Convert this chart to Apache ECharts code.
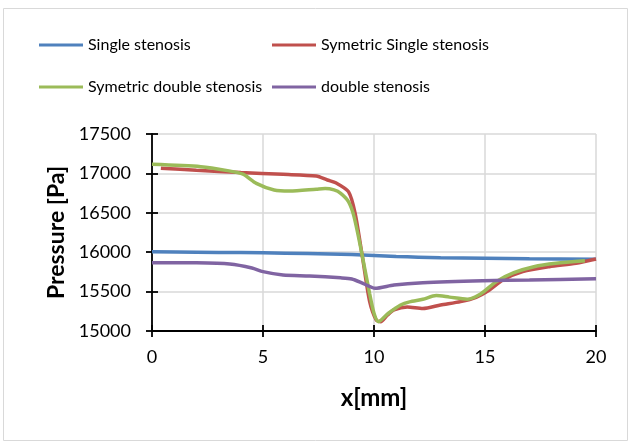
<!DOCTYPE html>
<html>
<head>
<meta charset="utf-8">
<script src="https://cdn.jsdelivr.net/npm/echarts@6/dist/echarts.min.js"></script>
<style>
  html, body { margin: 0; padding: 0; background: #fff; }
  #main { width: 630px; height: 442px; }
</style>
</head>
<body>
<div id="main"></div>
<script>
// values (x in mm, pressure in Pa)
var singleX = [0, 2, 4, 6, 8, 9, 10, 11, 12, 13, 15, 17, 20];
var singleP = [16005, 16000, 15995, 15988, 15978, 15970, 15958, 15945, 15937, 15930, 15922, 15916, 15910];

var symSingleX = [0.4, 2, 4, 5.9, 7.4, 7.9, 8.3, 8.85, 9.15, 9.5, 9.8, 10.1, 10.3, 10.6, 10.9, 11.5, 12.2, 13.0, 13.9, 14.6, 15.2, 15.8, 16.7, 17.9, 19.1, 20];
var symSingleP = [17065, 17040, 17010, 16988, 16967, 16916, 16878, 16768, 16493, 15900, 15380, 15140, 15118, 15200, 15267, 15305, 15285, 15330, 15373, 15428, 15520, 15647, 15753, 15816, 15859, 15914];

var symDoubleX = [0, 2.2, 3.4, 4.1, 4.7, 5.5, 6.2, 7.4, 7.8, 8.2, 8.5, 8.85, 9.1, 9.45, 9.8, 10.0, 10.2, 10.65, 11.2, 11.6, 12.2, 12.8, 13.4, 14.2, 14.8, 15.5, 16.3, 17.2, 18.2, 19.5];
var symDoubleP = [17115, 17085, 17035, 16990, 16874, 16790, 16777, 16800, 16808, 16790, 16747, 16641, 16451, 15986, 15478, 15225, 15118, 15225, 15330, 15370, 15402, 15450, 15430, 15404, 15470, 15626, 15740, 15816, 15859, 15892];

var doubleX = [0, 2, 3.5, 4.5, 5, 5.9, 7.1, 8.5, 9.0, 9.5, 10.05, 10.9, 12.2, 14.9, 17, 20];
var doubleP = [15867, 15865, 15850, 15800, 15753, 15710, 15698, 15675, 15660, 15605, 15542, 15584, 15613, 15638, 15648, 15662];

var names = ['Single stenosis', 'Symetric Single stenosis', 'Symetric double stenosis', 'double stenosis'];
var colors = ['#4F81BD', '#C0504D', '#9BBB59', '#8064A2'];

var xTicks = [0, 5, 10, 15, 20];
var yTicks = [15000, 15500, 16000, 16500, 17000, 17500];

function pairs(xs, ys) {
    return xs.map(function (x, i) { return [x, ys[i]]; });
}

var font = 'Lato, "Liberation Sans", sans-serif';

function legendAt(name, left, top) {
    return {
        data: [name],
        left: left,
        top: top,
        padding: 0,
        icon: 'rect',
        itemWidth: 44,
        itemHeight: 3,
        itemGap: 0,
        textStyle: { fontFamily: font, fontSize: 16, color: '#000' }
    };
}

var chart = echarts.init(document.getElementById('main'));

var option = {
    animation: false,
    backgroundColor: '#fff',
    color: colors,
    graphic: [{
        type: 'rect',
        shape: { x: 3.5, y: 8.5, width: 624, height: 432 },
        style: { fill: 'none', stroke: '#d9d9d9', lineWidth: 1 },
        silent: true
    }],
    legend: [
        legendAt(names[0], 39, 37),
        legendAt(names[1], 272, 37),
        legendAt(names[2], 39, 79),
        legendAt(names[3], 272, 79)
    ],
    grid: { left: 152, right: 34, top: 134, bottom: 111, containLabel: false },
    xAxis: [{
        type: 'value',
        min: xTicks[0],
        max: xTicks[xTicks.length - 1],
        interval: 5,
        position: 'bottom',
        name: 'x[mm]',
        nameLocation: 'middle',
        nameGap: 55,
        nameTextStyle: { fontFamily: font, fontSize: 24, fontWeight: 'bold', color: '#000' },
        axisLine: { onZero: false, lineStyle: { color: '#000', width: 1.8 } },
        axisTick: { length: 6, lineStyle: { color: '#000', width: 1.8 } },
        axisLabel: { margin: 17, fontFamily: font, fontSize: 18, color: '#000' },
        splitLine: { show: true, lineStyle: { color: '#d9d9d9', width: 1.5 } }
    }, {
        type: 'value',
        min: xTicks[0],
        max: xTicks[xTicks.length - 1],
        interval: 5,
        position: 'bottom',
        axisLine: { show: false, onZero: false },
        axisTick: { inside: true, length: 6, lineStyle: { color: '#000', width: 1.8 } },
        axisLabel: { show: false },
        splitLine: { show: false }
    }],
    yAxis: [{
        type: 'value',
        min: yTicks[0],
        max: yTicks[yTicks.length - 1],
        interval: 500,
        position: 'left',
        name: 'Pressure [Pa]',
        nameLocation: 'middle',
        nameGap: 82,
        nameTextStyle: { fontFamily: font, fontSize: 23, fontWeight: 'bold', color: '#000' },
        axisLine: { show: true, onZero: false, lineStyle: { color: '#000', width: 1.8 } },
        axisTick: { show: true, length: 6, lineStyle: { color: '#000', width: 1.8 } },
        axisLabel: {
            margin: 21, fontFamily: font, fontSize: 18, color: '#000',
            formatter: function (v) { return String(v); }
        },
        splitLine: { show: true, lineStyle: { color: '#d9d9d9', width: 1.5 } }
    }, {
        type: 'value',
        min: yTicks[0],
        max: yTicks[yTicks.length - 1],
        interval: 500,
        position: 'left',
        axisLine: { show: false, onZero: false },
        axisTick: { show: true, inside: true, length: 6, lineStyle: { color: '#000', width: 1.8 } },
        axisLabel: { show: false },
        splitLine: { show: false }
    }],
    series: [
        { name: names[0], type: 'line', data: pairs(singleX, singleP) },
        { name: names[1], type: 'line', data: pairs(symSingleX, symSingleP) },
        { name: names[2], type: 'line', data: pairs(symDoubleX, symDoubleP) },
        { name: names[3], type: 'line', data: pairs(doubleX, doubleP) }
    ].map(function (s, i) {
        s.showSymbol = false;
        s.symbol = 'none';
        s.smooth = 0.25;
        s.lineStyle = { width: 3.5, color: colors[i] };
        s.itemStyle = { color: colors[i] };
        return s;
    })
};

chart.setOption(option);
</script>
</body>
</html>
